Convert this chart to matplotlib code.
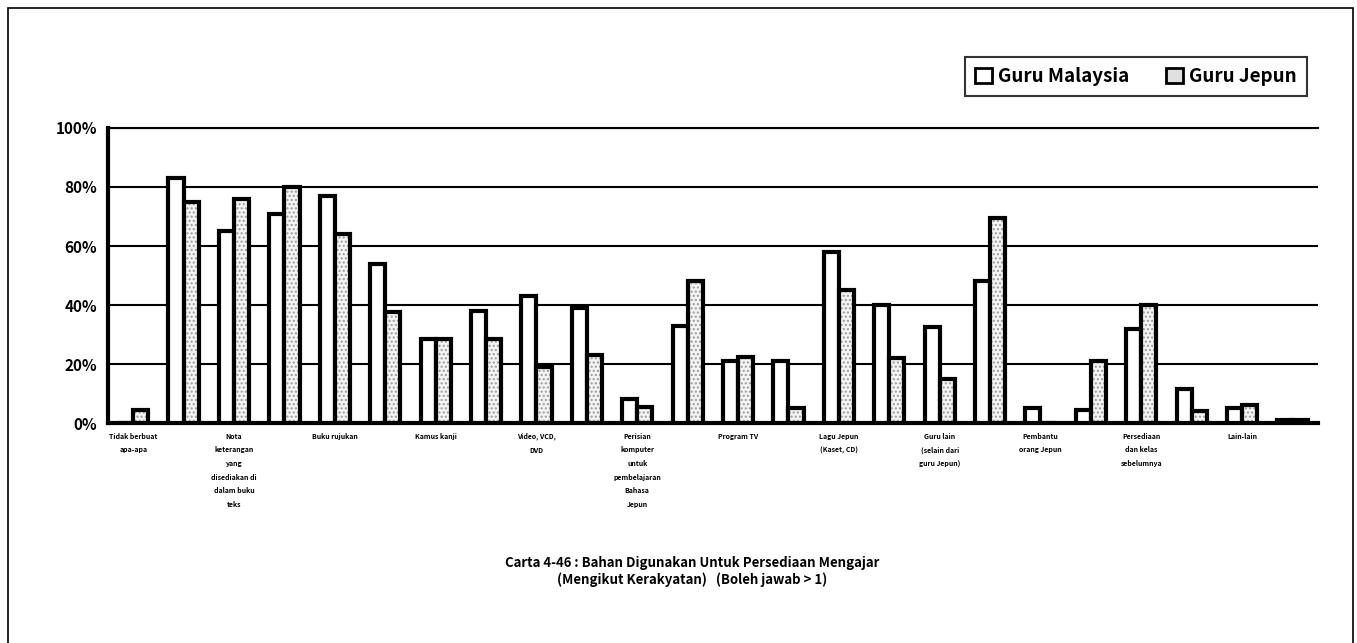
import matplotlib.pyplot as plt
import numpy as np
from matplotlib.patches import Rectangle

plt.rcParams['font.family'] = ['Noto Sans CJK JP', 'DejaVu Sans']

# Percentages for each of the 24 answer options (Excel only labels every other one)
guru_malaysia = [0, 83, 65, 71, 77, 54, 28.5, 38, 43, 39, 8, 33,
                 21, 21, 58, 40, 32.5, 48, 5, 4.3, 32, 11.5, 5, 1]
guru_jepun = [4.5, 75, 76, 80, 64, 37.5, 28.5, 28.5, 19, 23, 5.5, 48,
              22.5, 5, 45, 22, 15, 69.5, 0, 21, 40, 4, 6, 1.2]

tick_labels = [
    "Tidak berbuat\napa-apa",
    "Nota\nketerangan\nyang\ndisediakan di\ndalam buku\nteks",
    "Buku rujukan",
    "Kamus kanji",
    "Video, VCD,\nDVD",
    "Perisian\nkomputer\nuntuk\npembelajaran\nBahasa\nJepun",
    "Program TV",
    "Lagu Jepun\n(Kaset, CD)",
    "Guru lain\n(selain dari\nguru Jepun)",
    "Pembantu\norang Jepun",
    "Persediaan\ndan kelas\nsebelumnya",
    "Lain-lain",
]

series_names = ["Guru Malaysia", "Guru Jepun"]
yticks = [0, 20, 40, 60, 80, 100]

fig = plt.figure(figsize=(13.57, 6.43), dpi=100)
ax = fig.add_axes([0.0796, 0.342, 0.8914, 0.459])

x = np.arange(len(guru_malaysia))
w = 0.3

ax.bar(x - w / 2, guru_malaysia, width=w, facecolor='white', edgecolor='black',
       linewidth=3.0, zorder=3, label=series_names[0])
# stippled fill for the second series, then the outline on top
ax.bar(x + w / 2, guru_jepun, width=w, facecolor='#f4f4f4', edgecolor='#9a9a9a',
       hatch='....', linewidth=0, zorder=3)
ax.bar(x + w / 2, guru_jepun, width=w, fill=False, edgecolor='black',
       linewidth=3.0, zorder=4)

ax.set_xlim(-0.5, len(x) - 0.5)
ax.set_ylim(0, 100)
ax.set_yticks(yticks)
ax.set_yticklabels([f"{v}%" for v in yticks], fontsize=11, fontweight='bold')
ax.yaxis.grid(True, color='black', linewidth=1.5, zorder=0)
ax.tick_params(axis='y', length=0, pad=8)
ax.tick_params(axis='x', length=0, pad=7)

ax.set_xticks(x[::2])
ax.set_xticklabels(tick_labels, fontsize=5, fontweight='bold',
                   linespacing=2.1, va='top')

ax.spines['left'].set_linewidth(3)
ax.spines['bottom'].set_linewidth(3)
ax.spines['top'].set_linewidth(1.5)
ax.spines['right'].set_visible(False)

# legend: small square markers with outlined boxes
h1 = Rectangle((0, 0), 1, 1, facecolor='white', edgecolor='black', linewidth=2)
h2 = Rectangle((0, 0), 1, 1, facecolor='#e0e0e0', edgecolor='black', linewidth=2)
leg = fig.legend([h1, h2], series_names, loc='upper right',
                 bbox_to_anchor=(0.963, 0.912), borderaxespad=0, ncol=2,
                 frameon=True, fancybox=False, handlelength=0.9,
                 handleheight=0.9, handletextpad=0.3, columnspacing=2.0,
                 borderpad=0.55, prop={'size': 13.5, 'weight': 'bold'})
leg.get_frame().set_edgecolor('black')
leg.get_frame().set_linewidth(1.5)

fig.text(0.51, 0.124, "Carta 4-46 : Bahan Digunakan Untuk Persediaan Mengajar",
         ha='center', va='center', fontsize=9.5, fontweight='bold')
fig.text(0.51, 0.098, "(Mengikut Kerakyatan)   (Boleh jawab > 1)",
         ha='center', va='center', fontsize=9.5, fontweight='bold')

# outer frame around the whole chart
fig.patches.append(Rectangle((0.006, -0.02), 0.991, 1.007, transform=fig.transFigure,
                             fill=False, edgecolor='black', linewidth=1.2))

fig.savefig("out.png", dpi=100)
